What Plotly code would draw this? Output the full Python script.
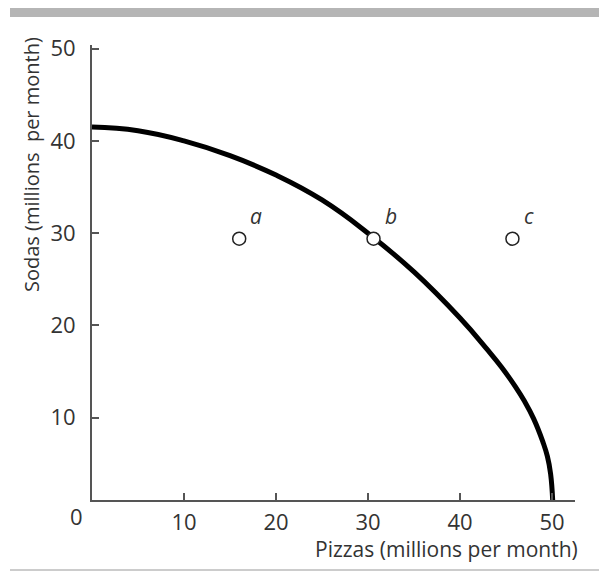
import plotly.graph_objects as go

# Production possibilities frontier data
pizzas = [0, 5, 10, 15, 20, 25, 30, 35, 40, 43, 44.5, 46, 47, 48, 49, 49.5, 49.85, 50.1]
sodas = [41.5, 41.1, 40.0, 38.4, 36.3, 33.6, 30.0, 25.8, 20.8, 17.35, 15.5, 13.4, 11.8, 9.9, 7.4, 5.8, 3.9, 0.5]

point_labels = ["a", "b", "c"]
point_pizzas = [16, 30.6, 45.7]
point_sodas = [29.4, 29.4, 29.4]

tick_vals = [10, 20, 30, 40, 50]
tick_text = ["10", "20", "30", "40", "50"]

# page body has an 8px margin, so the figure is drawn 8px in from the window edge
OFF = 8
W, H = 607 - OFF, 573 - OFF
ML, MR, MT, MB = 92 - OFF, 32, 45 - OFF, 73
PW, PH = W - ML - MR, H - MT - MB

def px(x):
    return (x - OFF - ML) / PW

def py(y):
    return (H - MB - (y - OFF)) / PH

FONT = "Open Sans"
TXT = "#333333"
AX = "#555555"

fig = go.Figure()
fig.add_trace(go.Scatter(
    x=pizzas, y=sodas, mode="lines",
    line=dict(color="black", width=5, shape="spline", smoothing=1.3),
    hoverinfo="skip", showlegend=False,
))
fig.add_trace(go.Scatter(
    x=point_pizzas, y=point_sodas, mode="markers",
    marker=dict(size=13, color="white", line=dict(color="#222222", width=1.5)),
    showlegend=False, cliponaxis=False,
))

annotations = []
for lab, xv, yv in zip(point_labels, point_pizzas, point_sodas):
    annotations.append(dict(
        x=xv, y=yv, xref="x", yref="y", text=lab, showarrow=False,
        xshift=17, yshift=23, font=dict(family=FONT, size=21, color=TXT, style="italic"),
    ))

annotations.append(dict(
    x=px(76), y=py(516), xref="paper", yref="paper", text="0", showarrow=False,
    font=dict(family=FONT, size=22, color=TXT), xanchor="center", yanchor="middle",
))
annotations.append(dict(
    x=px(580), y=py(549), xref="paper", yref="paper",
    text="Pizzas (millions per month)", showarrow=False,
    font=dict(family=FONT, size=21, color=TXT), xanchor="right", yanchor="middle",
))
annotations.append(dict(
    x=px(32), y=py(165), xref="paper", yref="paper",
    text="Sodas (millions&nbsp; per month)", showarrow=False, textangle=-90,
    font=dict(family=FONT, size=20, color=TXT), xanchor="center", yanchor="middle",
))

shapes = [
    dict(type="rect", xref="paper", yref="paper",
         x0=px(10), x1=px(615), y0=py(17), y1=py(8),
         fillcolor="#b5b5b5", line=dict(width=0), layer="above"),
    dict(type="line", xref="paper", yref="paper",
         x0=px(10), x1=px(615), y0=py(570), y1=py(570),
         line=dict(color="#cccccc", width=2)),
]

fig.update_layout(
    width=W, height=H,
    margin=dict(l=ML, r=MR, t=MT, b=MB),
    paper_bgcolor="white", plot_bgcolor="white",
    showlegend=False,
    annotations=annotations, shapes=shapes,
    xaxis=dict(
        range=[0, 52.5], showgrid=False, zeroline=False,
        showline=True, linecolor=AX, linewidth=2,
        ticks="inside", ticklen=7, tickcolor=AX, tickwidth=1.5,
        tickvals=tick_vals, ticktext=tick_text, ticklabelstandoff=2,
        tickfont=dict(family=FONT, size=22, color=TXT),
    ),
    yaxis=dict(
        range=[1.08, 50.4], showgrid=False, zeroline=False,
        showline=True, linecolor=AX, linewidth=2,
        ticks="inside", ticklen=7, tickcolor=AX, tickwidth=1.5,
        tickvals=tick_vals, ticktext=tick_text, ticklabelstandoff=10,
        tickfont=dict(family=FONT, size=22, color=TXT),
    ),
)

fig.write_html("out.html")
